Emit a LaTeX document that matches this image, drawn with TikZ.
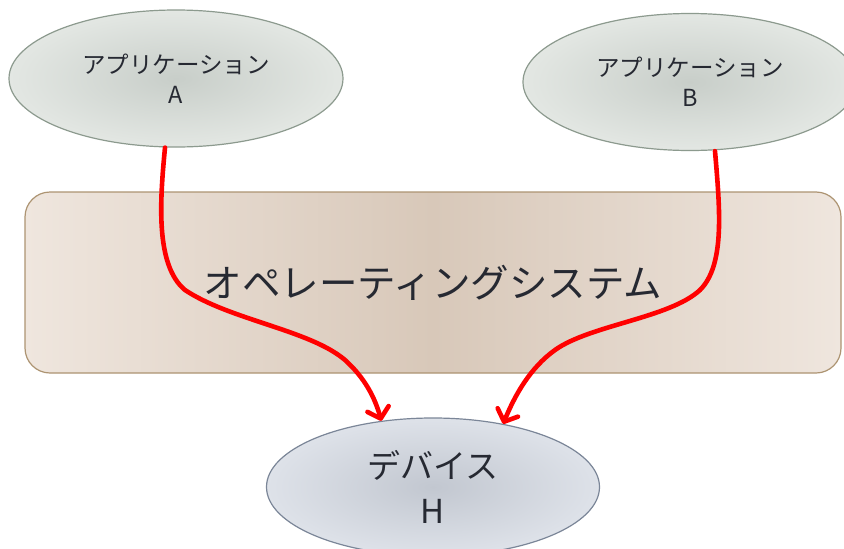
\documentclass[tikz,border=0pt]{standalone}
\usepackage{fontspec}
\setmainfont{Noto Sans CJK JP}
\usetikzlibrary{arrows.meta,shapes.geometric}
\definecolor{appinner}{HTML}{C8CEC9}
\definecolor{appouter}{HTML}{E3E7E3}
\definecolor{appborder}{HTML}{8C9A8E}
\definecolor{osmid}{HTML}{D8C8B9}
\definecolor{osedge}{HTML}{EFE6DE}
\definecolor{osborder}{HTML}{AD9472}
\definecolor{devinner}{HTML}{C2C7D0}
\definecolor{devouter}{HTML}{DEE2E9}
\definecolor{devborder}{HTML}{7B8698}
\definecolor{txt}{HTML}{262932}
\begin{document}
\begin{tikzpicture}[x=1pt,y=-1pt,
  appnode/.style={ellipse, draw=appborder, line width=1.2pt, shading=radial,
    inner color=appinner, outer color=appouter, minimum width=334pt,
    minimum height=137pt, align=center, text=txt,
    font=\fontsize{23.5}{30}\selectfont},
  devnode/.style={ellipse, draw=devborder, line width=1.2pt, shading=radial,
    inner color=devinner, outer color=devouter, minimum width=333pt,
    minimum height=138pt, align=center, text=txt,
    font=\fontsize{33}{45}\selectfont},
  osnode/.style={rectangle, rounded corners=25pt, draw=osborder, line width=1.2pt,
    left color=osedge, right color=osedge, middle color=osmid,
    minimum width=816pt, minimum height=181pt, text=txt,
    font=\fontsize{38.5}{44}\selectfont},
  flow/.style={draw=red, line width=4.6pt, line cap=round,
    -{Straight Barb[length=10pt,width=22pt,round]}}
]
\useasboundingbox (0,0) rectangle (844,549);
\clip (0,0) rectangle (844,549);
\fill[white] (0,0) rectangle (844,549);

\node[osnode] (os) at (433,282.5) {オペレーティングシステム};
\node[appnode] (A) at (176,78.5) {アプリケーション\\A};
\node[appnode] (B) at (690,82) {アプリケーション\\B};
\node[devnode] (H) at (433,487) {デバイス\\H};

\draw[flow] ([xshift=-11pt]A.south) .. controls (160,200) and (155,265) .. (185,290)
  .. controls (230,320) and (310,330) .. (345,360)
  .. controls (365,378) and (375,398) .. (H.128);
\draw[flow] ([xshift=25pt]B.south) .. controls (720,210) and (725,265) .. (700,290)
  .. controls (670,318) and (590,325) .. (555,350)
  .. controls (530,368) and (515,395) .. (H.42);
\end{tikzpicture}
\end{document}
